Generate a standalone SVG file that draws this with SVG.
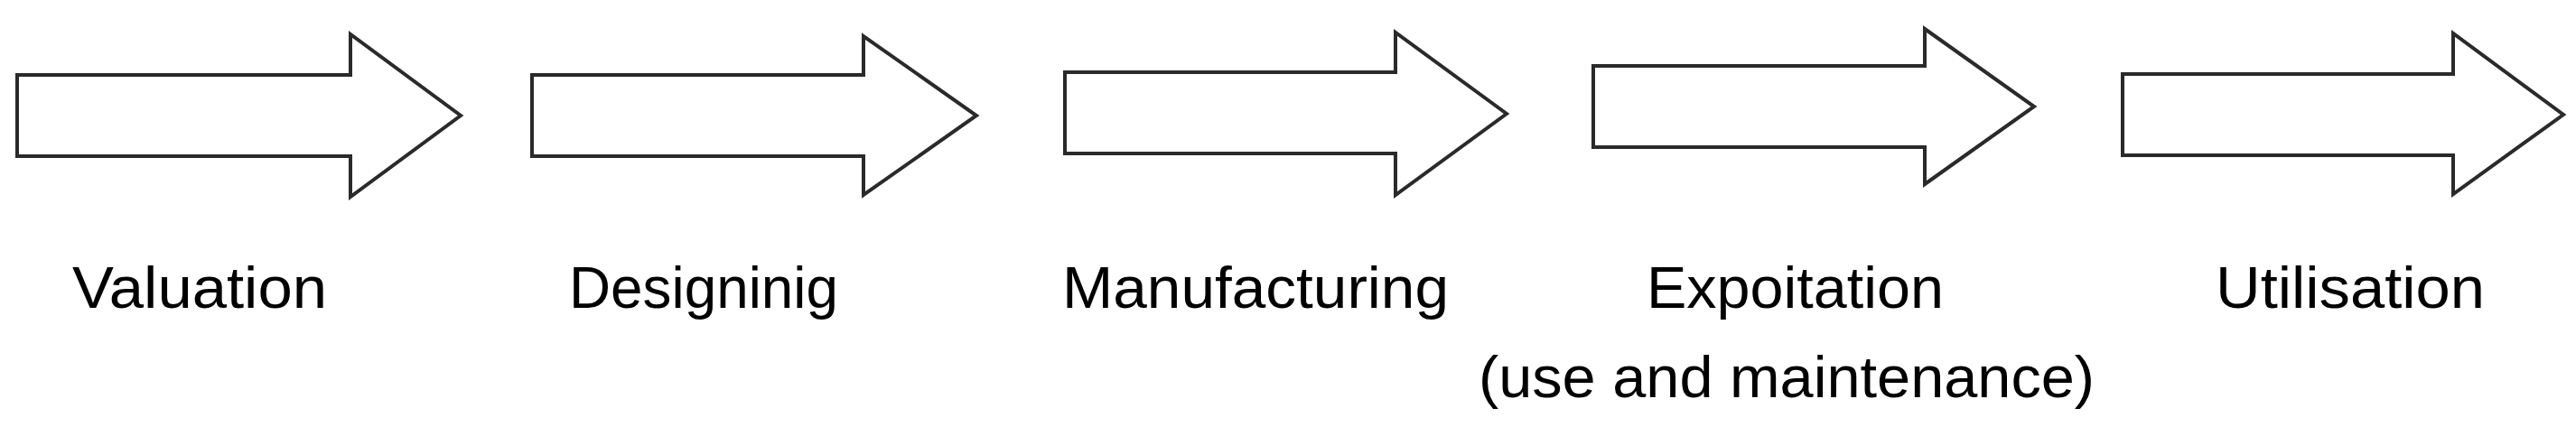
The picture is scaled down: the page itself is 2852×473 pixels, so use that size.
<svg xmlns="http://www.w3.org/2000/svg" width="2852" height="473" viewBox="0 0 2852 473">
  <style>
    .arrow { fill: #ffffff; stroke: #2a2a2a; stroke-width: 4; stroke-linejoin: miter; }
    .label { font-family: "Liberation Sans", Arial, sans-serif; font-size: 64px; fill: #000000; }
  </style>
  <rect x="0" y="0" width="2852" height="473" fill="#ffffff"/>
  <g id="connectors"></g>
  <g id="node-valuation">
    <polygon class="arrow" points="19,83 388,83 388,38 510,128 388,218 388,173 19,173"/>
    <text class="label" x="80" y="341" textLength="282" lengthAdjust="spacingAndGlyphs">Valuation</text>
  </g>
  <g id="node-designinig">
    <polygon class="arrow" points="589,83 956,83 956,40 1081,128 956,216 956,173 589,173"/>
    <text class="label" x="630" y="341" textLength="298" lengthAdjust="spacingAndGlyphs">Designinig</text>
  </g>
  <g id="node-manufacturing">
    <polygon class="arrow" points="1179,80 1545,80 1545,36 1668,126 1545,216 1545,170 1179,170"/>
    <text class="label" x="1176" y="341" textLength="428" lengthAdjust="spacingAndGlyphs">Manufacturing</text>
  </g>
  <g id="node-expoitation">
    <polygon class="arrow" points="1764,73 2131,73 2131,32 2252,118 2131,204 2131,163 1764,163"/>
    <text class="label" x="1823" y="341" textLength="329" lengthAdjust="spacingAndGlyphs">Expoitation</text>
    <text class="label" x="1637" y="440" textLength="682" lengthAdjust="spacingAndGlyphs">(use and maintenance)</text>
  </g>
  <g id="node-utilisation">
    <polygon class="arrow" points="2350,82 2716,82 2716,37 2838,127 2716,215 2716,172 2350,172"/>
    <text class="label" x="2453" y="341" textLength="298" lengthAdjust="spacingAndGlyphs">Utilisation</text>
  </g>
</svg>
